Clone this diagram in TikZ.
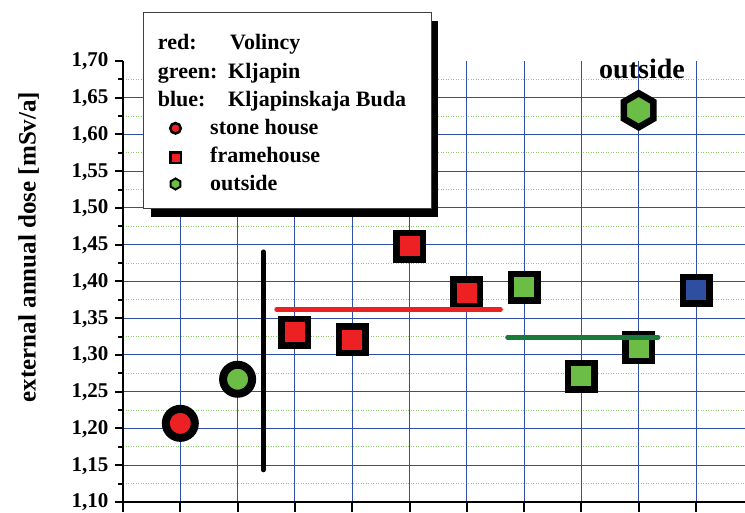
\documentclass[tikz,border=0pt]{standalone}
\usepackage{fontspec}
\setmainfont{Liberation Serif}
\usetikzlibrary{positioning, shapes.geometric, shadows}

\definecolor{markred}{HTML}{ED2024}
\definecolor{markgreen}{HTML}{6BBD45}
\definecolor{markblue}{HTML}{2E4EA0}
\definecolor{gridblue}{HTML}{3050A8}
\definecolor{griddot}{HTML}{8CCB6A}
\definecolor{meangreen}{HTML}{197B3A}

\tikzset{
  stonehouse/.style={circle, draw=black, line width=8pt, minimum size=29pt, inner sep=0pt},
  framehouse/.style={rectangle, draw=black, line width=6.5pt, minimum size=26.5pt, inner sep=0pt},
  outsidept/.style={regular polygon, regular polygon sides=6, shape border rotate=30, draw=black, line width=6.5pt, minimum size=34pt, inner sep=0pt},
  legstone/.style={circle, draw=black, line width=2.5pt, minimum size=10.5pt, inner sep=0pt},
  legframe/.style={rectangle, draw=black, line width=2.5pt, minimum size=10.5pt, inner sep=0pt},
  legoutside/.style={regular polygon, regular polygon sides=6, shape border rotate=30, draw=black, line width=2pt, minimum size=11pt, inner sep=0pt},
  gridline/.style={gridblue, line width=1pt},
  griddots/.style={griddot, line width=1pt, dash pattern=on 1pt off 1.5pt},
  axisline/.style={black, line width=2pt},
  meanline/.style={line width=4.5pt, line cap=round},
  ticklabel/.style={font=\fontsize{21}{25}\selectfont\bfseries, inner sep=0pt},
  legtext/.style={font=\fontsize{22}{26}\selectfont\bfseries, inner sep=0pt},
  legendbox/.style={draw=black!75, line width=0.8pt, fill=white, drop shadow={shadow xshift=7pt, shadow yshift=-8pt, fill=black, opacity=1}},
}

\begin{document}
\begin{tikzpicture}[x=1pt, y=1pt]
    \useasboundingbox (0,0) rectangle (745,512);

    \begin{scope}[shift={(123pt,-798.5pt)}, x=57.3pt, y=735pt]
        \foreach \k in {0,...,11}
        \draw[griddots] (0,{1.125+0.05*\k}) -- (10.855,{1.125+0.05*\k});
        \foreach \k in {1,...,11}
        \draw[gridline] (0,{1.10+0.05*\k}) -- (10.855,{1.10+0.05*\k});
        \foreach \i in {1,...,10}
        \draw[gridline] (\i,1.10) -- (\i,1.70);

        \draw[axisline] ([xshift=-8pt]0,1.10) -- (10.855,1.10);
        \draw[axisline] (0,1.70) -- ([yshift=-10pt]0,1.10);
        \foreach \i in {1,...,10}
        \draw[axisline] (\i,1.10) -- ++(0pt,-10pt);
        \foreach \t [count=\k from 0] in {10,15,...,70}
        {
        \draw[axisline] (0,{1.10+0.05*\k}) -- ++(-8pt,0pt);
        \node[ticklabel, anchor=base east] at ([xshift=-14.5pt, yshift=-6pt]0,{1.10+0.05*\k}) {1,\t};
        }
        \foreach \k in {0,...,11}
        \draw[axisline] (0,{1.125+0.05*\k}) -- ++(-5pt,0pt);

        \node[stonehouse, fill=markred] (p1) at (1,1.207) {};
        \node[stonehouse, fill=markgreen] (p2) at (2,1.267) {};
        \node[framehouse, fill=markred] (p3) at (3,1.331) {};
        \node[framehouse, fill=markred] (p4) at (4,1.321) {};
        \node[framehouse, fill=markred] (p5) at (5,1.448) {};
        \node[framehouse, fill=markred] (p6) at (6,1.385) {};
        \node[framehouse, fill=markgreen] (p7) at (7,1.392) {};
        \node[framehouse, fill=markgreen] (p8) at (8,1.271) {};
        \node[framehouse, fill=markgreen] (p9) at (9,1.310) {};
        \node[framehouse, fill=markblue] (p10) at (10,1.388) {};
        \node[outsidept, fill=markgreen] (hex) at (9,1.633) {};

        \draw[meanline, black] (2.45,1.4405) -- (2.45,1.1435);
        \draw[meanline, markred] (2.68,1.362) -- (6.59,1.362);
        \draw[meanline, meangreen] (6.71,1.324) -- (9.34,1.324);
    \end{scope}

    \node[font=\fontsize{28}{32}\selectfont\bfseries, inner sep=0pt, anchor=base] (outlab) at (642,433.7) {outside};
    \node[font=\fontsize{25}{30}\selectfont\bfseries, inner sep=0pt, rotate=90, anchor=base] (ylab) at (35.5,265) {external annual dose [mSv/a]};

    \node[legendbox, anchor=north west, minimum width=287.7pt, minimum height=196pt] (legend) at (143.3,499.7) {};
    \node[legtext, anchor=base west] (lred) at (157.7,462) {red:};
    \node[legtext, anchor=base west] (lgreen) at (157.7,433.8) {green:};
    \node[legtext, anchor=base west] (lblue) at (157.7,405.6) {blue:};
    \node[legtext, anchor=base west] (vol) at (230,462) {Volincy};
    \node[legtext, anchor=base west] (klj) at (228,433.8) {Kljapin};
    \node[legtext, anchor=base west] (kbuda) at (228,405.6) {Kljapinskaja Buda};
    \node[legstone, fill=markred] (kstone) at (175.5,383.7) {};
    \node[legframe, fill=markred] (kframe) at (175.5,354.3) {};
    \node[legoutside, fill=markgreen] (kout) at (175.5,328) {};
    \node[legtext, anchor=base west] (tstone) at (210,377.4) {stone house};
    \node[legtext, anchor=base west] (tframe) at (210,349.2) {framehouse};
    \node[legtext, anchor=base west] (tout) at (210,321) {outside};
\end{tikzpicture}
\end{document}
